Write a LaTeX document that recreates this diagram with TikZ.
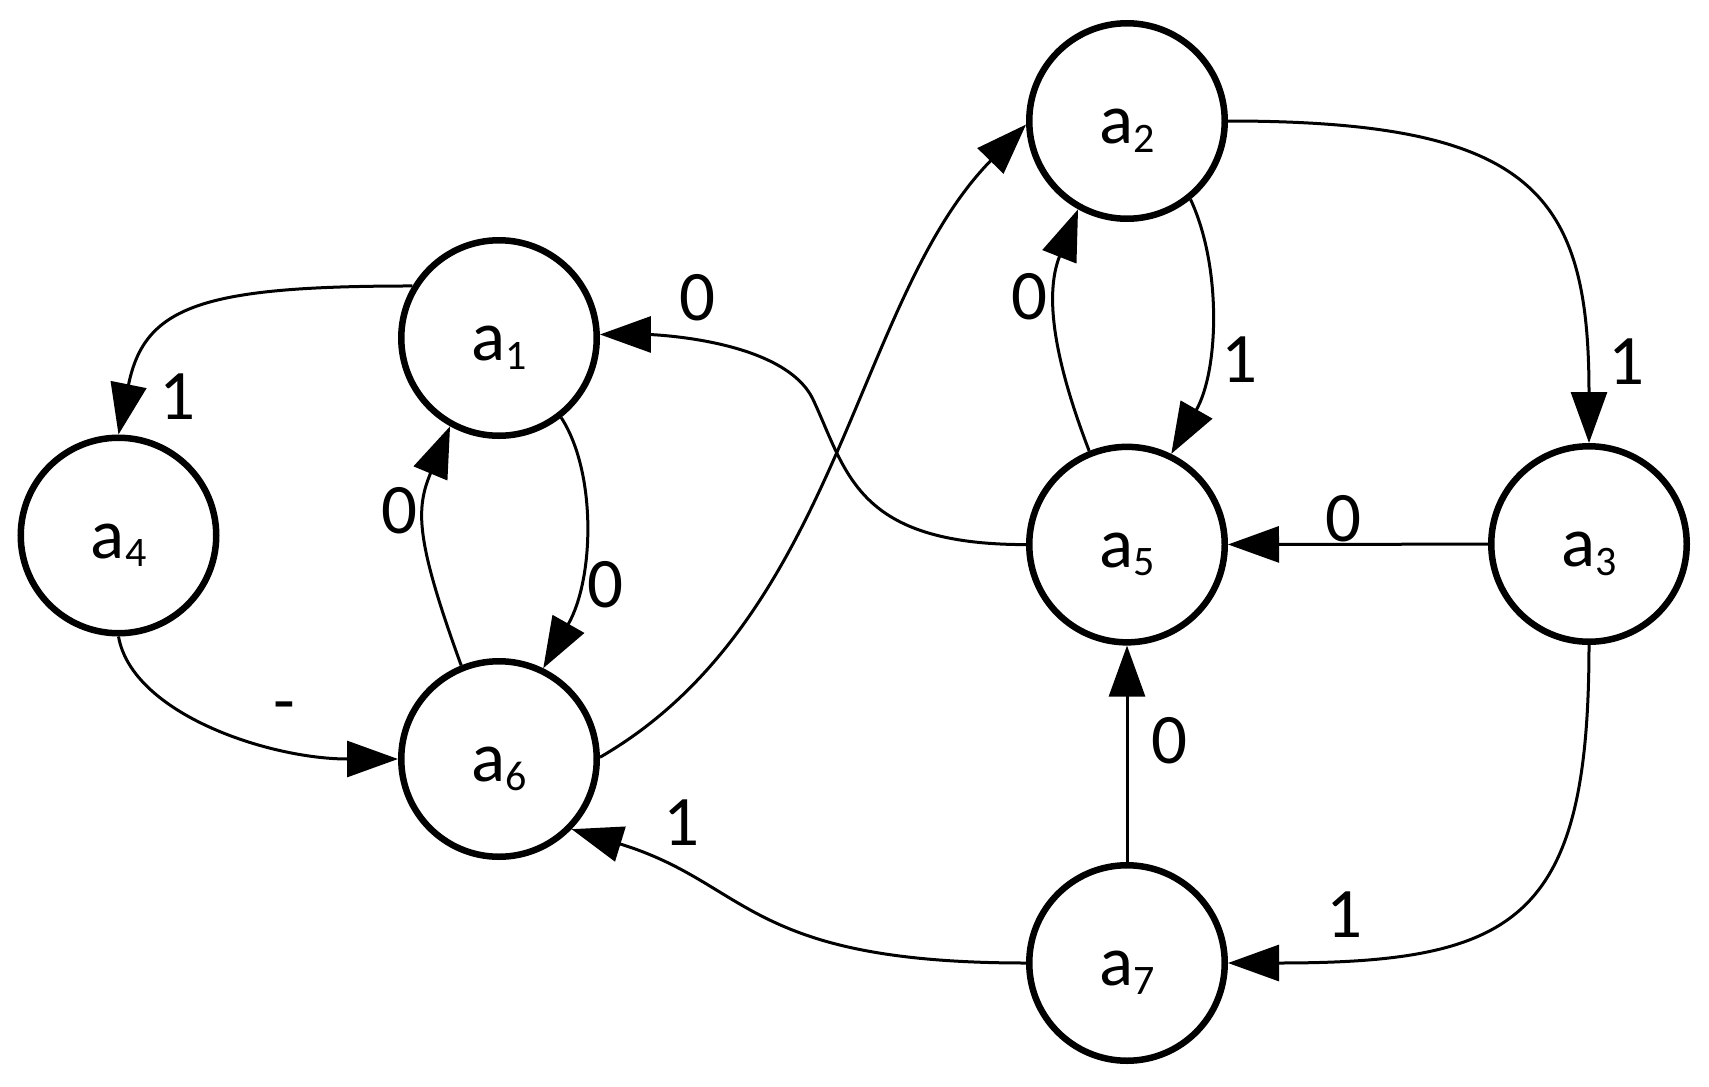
\documentclass[tikz,border=0pt]{standalone}
\usepackage{fontspec}
\setmainfont{Carlito}[Numbers=Lining]
\usetikzlibrary{arrows.meta}
\newcommand\sbs[1]{\kern0.5pt\raisebox{-8.5pt}{\fontsize{42}{42}\selectfont #1}}
\tikzset{
  stnode/.style={circle, draw, line width=6.5pt, minimum size=195.5pt, inner sep=0pt,
    text height=45pt, text depth=0pt, font=\fontsize{71}{71}\selectfont},
  conn/.style={line width=3pt, -{Triangle[length=51pt,width=36pt]}},
  lbl/.style={inner sep=0pt, anchor=base, font=\fontsize{71}{71}\selectfont},
}
\begin{document}
\begin{tikzpicture}[x=1pt,y=1pt]
\useasboundingbox (0,0) rectangle (1709,-1087);
% states
\node[stnode] (a1) at (499,-338) {a\sbs{1}};
\node[stnode] (a2) at (1127,-121) {a\sbs{2}};
\node[stnode] (a3) at (1589,-544) {a\sbs{3}};
\node[stnode] (a4) at (118.5,-535.5) {a\sbs{4}};
\node[stnode] (a5) at (1127,-544.6) {a\sbs{5}};
\node[stnode] (a6) at (499,-759) {a\sbs{6}};
\node[stnode] (a7) at (1127,-963) {a\sbs{7}};
% transitions
\draw[conn] (a1.149.4) .. controls +(180:211) and +(78.6:131) .. (a4.90);
\draw[conn] (a4.270) .. controls +(-80:78.5) and +(180:129) .. (a6.180);
\draw[conn] (a1.-52.3) .. controls +(-57:64.8) and +(60.4:104) .. (a6.64.7);
\draw[conn] (a6.112) .. controls +(110:134.5) and +(247.4:89.3) .. (a1.241.4);
\draw[conn] (a5.180) .. controls +(180:170) and +(-65:80) .. (813.3,-400)
                     .. controls +(115:70) and +(0:40) .. (a1.2);
\draw[conn] (a6.1) .. controls +(30:276) and +(225.6:246) .. (a2.182);
\draw[conn] (a2.-51.2) .. controls +(-65:74.3) and +(60.3:95.9) .. (a5.64.4);
\draw[conn] (a5.112.5) .. controls +(111:95.8) and +(248.5:93.2) .. (a2.241.6);
\draw[conn] (a2.0) .. controls +(0:304) and +(90:250.7) .. (a3.90);
\draw[conn] (a3) -- (a5);
\draw[conn] (a7) -- (a5);
\draw[conn] (a3.270) .. controls +(270:274.7) and +(0:289) .. (a7.0);
\draw[conn] (a7.180) .. controls +(180:281.2) and +(-17:186.3) .. (a6.-44.3);
% labels
\node[lbl] (l1) at (177.5,-419.4) {1};
\node[lbl] (l2) at (284,-724) {-};
\node[lbl] (l3) at (399,-533.4) {0};
\node[lbl] (l4) at (605.5,-607) {0};
\node[lbl] (l5) at (697.5,-320) {0};
\node[lbl] (l7) at (1029,-319) {0};
\node[lbl] (l8) at (1239,-382) {1};
\node[lbl] (l9) at (1626,-384) {1};
\node[lbl] (l10) at (1343,-541) {0};
\node[lbl] (l11) at (1169.5,-763) {0};
\node[lbl] (l12) at (1344,-937) {1};
\node[lbl] (l13) at (681.5,-845.7) {1};
\end{tikzpicture}
\end{document}
